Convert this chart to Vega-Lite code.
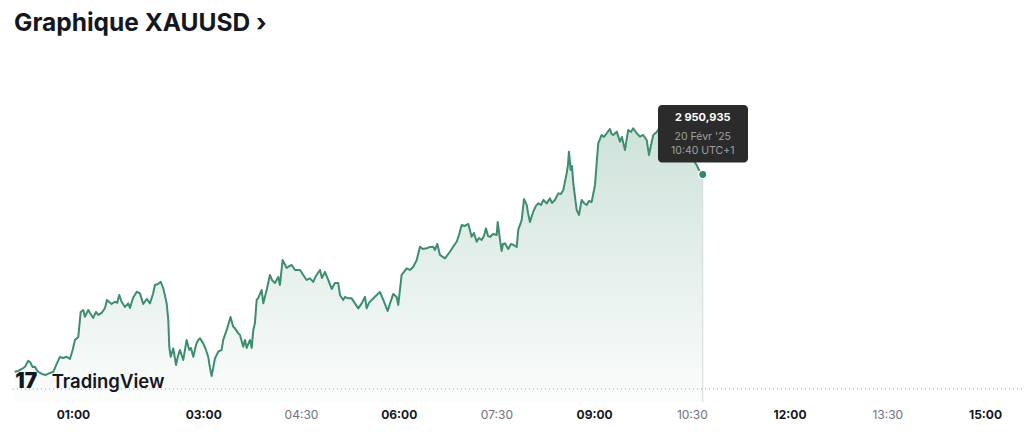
{
  "$schema": "https://vega.github.io/schema/vega-lite/v6.json",
  "width": 1024,
  "height": 342,
  "autosize": "none",
  "padding": {"left": 0, "right": 0, "top": 60, "bottom": 41},
  "background": "white",
  "config": {"view": {"stroke": null}, "font": "Inter"},
  "title": {
    "text": "Graphique XAUUSD ›",
    "anchor": "start",
    "frame": "group",
    "dx": 14,
    "dy": 22,
    "offset": 27,
    "baseline": "alphabetic",
    "font": "Inter",
    "fontSize": 24.5,
    "fontWeight": 700,
    "color": "#131722"
  },
  "datasets": {
    "xau": [
      {"t": 6.3, "p": 2931.21}, {"t": 9.6, "p": 2931.29}, {"t": 13.0, "p": 2931.49}, {"t": 15.8, "p": 2931.71},
      {"t": 18.8, "p": 2932.31}, {"t": 20.4, "p": 2932.19}, {"t": 22.9, "p": 2931.69}, {"t": 25.0, "p": 2931.71},
      {"t": 26.6, "p": 2931.39}, {"t": 28.0, "p": 2931.21}, {"t": 31.4, "p": 2930.99}, {"t": 35.1, "p": 2930.89},
      {"t": 38.8, "p": 2931.09}, {"t": 41.9, "p": 2931.21}, {"t": 45.0, "p": 2931.99}, {"t": 48.0, "p": 2932.69},
      {"t": 51.1, "p": 2932.59}, {"t": 54.2, "p": 2932.71}, {"t": 57.2, "p": 2932.49}, {"t": 59.7, "p": 2933.39},
      {"t": 61.8, "p": 2934.39}, {"t": 64.9, "p": 2934.69}, {"t": 67.1, "p": 2937.19}, {"t": 69.5, "p": 2937.39},
      {"t": 71.0, "p": 2936.71}, {"t": 74.1, "p": 2937.39}, {"t": 75.7, "p": 2937.09}, {"t": 78.7, "p": 2936.59},
      {"t": 81.2, "p": 2937.19}, {"t": 83.3, "p": 2936.89}, {"t": 86.4, "p": 2937.09}, {"t": 89.5, "p": 2937.59},
      {"t": 91.3, "p": 2938.39}, {"t": 93.2, "p": 2938.19}, {"t": 95.6, "p": 2937.99}, {"t": 98.7, "p": 2938.21},
      {"t": 100.8, "p": 2938.11}, {"t": 102.6, "p": 2938.89}, {"t": 104.8, "p": 2938.21}, {"t": 107.9, "p": 2937.69},
      {"t": 110.9, "p": 2938.05}, {"t": 112.5, "p": 2937.59}, {"t": 115.3, "p": 2938.59}, {"t": 118.7, "p": 2939.21},
      {"t": 121.7, "p": 2939.05}, {"t": 124.7, "p": 2937.99}, {"t": 127.9, "p": 2938.49}, {"t": 130.9, "p": 2938.05},
      {"t": 133.7, "p": 2938.99}, {"t": 135.5, "p": 2939.89}, {"t": 138.3, "p": 2939.99}, {"t": 140.8, "p": 2940.21},
      {"t": 143.2, "p": 2939.55}, {"t": 146.3, "p": 2938.05}, {"t": 147.8, "p": 2936.39}, {"t": 148.7, "p": 2933.71},
      {"t": 150.0, "p": 2932.71}, {"t": 152.4, "p": 2933.55}, {"t": 154.9, "p": 2931.89}, {"t": 156.7, "p": 2932.79},
      {"t": 158.5, "p": 2933.39}, {"t": 161.6, "p": 2932.39}, {"t": 164.7, "p": 2934.39}, {"t": 167.1, "p": 2933.39},
      {"t": 168.7, "p": 2933.59}, {"t": 170.8, "p": 2932.71}, {"t": 173.3, "p": 2933.89}, {"t": 175.4, "p": 2934.39},
      {"t": 177.0, "p": 2934.55}, {"t": 180.0, "p": 2934.05}, {"t": 182.5, "p": 2933.39}, {"t": 184.6, "p": 2932.69},
      {"t": 186.2, "p": 2931.59}, {"t": 187.7, "p": 2930.79}, {"t": 190.8, "p": 2932.55}, {"t": 193.8, "p": 2933.21},
      {"t": 196.9, "p": 2933.39}, {"t": 198.4, "p": 2934.39}, {"t": 201.6, "p": 2935.39}, {"t": 205.1, "p": 2936.69},
      {"t": 207.6, "p": 2935.71}, {"t": 209.2, "p": 2935.55}, {"t": 212.2, "p": 2935.05}, {"t": 213.8, "p": 2934.89},
      {"t": 216.8, "p": 2933.71}, {"t": 218.4, "p": 2934.39}, {"t": 220.0, "p": 2933.59}, {"t": 223.0, "p": 2934.39},
      {"t": 224.6, "p": 2933.59}, {"t": 226.1, "p": 2935.39}, {"t": 227.6, "p": 2936.09}, {"t": 229.2, "p": 2938.39},
      {"t": 230.7, "p": 2938.59}, {"t": 233.8, "p": 2939.39}, {"t": 235.3, "p": 2938.05}, {"t": 238.4, "p": 2939.39},
      {"t": 241.4, "p": 2940.89}, {"t": 243.3, "p": 2940.39}, {"t": 246.0, "p": 2940.09}, {"t": 249.1, "p": 2940.69},
      {"t": 250.6, "p": 2939.89}, {"t": 253.1, "p": 2942.39}, {"t": 256.8, "p": 2941.59}, {"t": 258.3, "p": 2941.71},
      {"t": 261.4, "p": 2941.89}, {"t": 264.5, "p": 2941.39}, {"t": 269.1, "p": 2941.39}, {"t": 272.1, "p": 2940.89},
      {"t": 275.2, "p": 2940.39}, {"t": 278.3, "p": 2940.55}, {"t": 281.3, "p": 2940.19}, {"t": 283.8, "p": 2940.79},
      {"t": 287.5, "p": 2941.39}, {"t": 289.3, "p": 2940.59}, {"t": 292.1, "p": 2941.19}, {"t": 295.1, "p": 2940.39},
      {"t": 298.3, "p": 2939.49}, {"t": 301.3, "p": 2940.09}, {"t": 304.3, "p": 2940.09}, {"t": 305.9, "p": 2938.89},
      {"t": 308.9, "p": 2938.39}, {"t": 310.5, "p": 2938.69}, {"t": 313.5, "p": 2938.55}, {"t": 316.7, "p": 2938.55},
      {"t": 319.7, "p": 2938.05}, {"t": 322.8, "p": 2937.55}, {"t": 325.9, "p": 2938.05}, {"t": 328.9, "p": 2938.69},
      {"t": 330.5, "p": 2937.55}, {"t": 332.6, "p": 2938.09}, {"t": 335.1, "p": 2938.39}, {"t": 338.1, "p": 2938.71},
      {"t": 342.7, "p": 2939.19}, {"t": 345.8, "p": 2938.39}, {"t": 349.8, "p": 2937.29}, {"t": 352.0, "p": 2938.05},
      {"t": 355.0, "p": 2938.99}, {"t": 358.1, "p": 2938.69}, {"t": 359.6, "p": 2937.89}, {"t": 362.7, "p": 2940.89},
      {"t": 364.9, "p": 2941.19}, {"t": 367.3, "p": 2941.55}, {"t": 370.4, "p": 2941.39}, {"t": 373.4, "p": 2941.71},
      {"t": 376.6, "p": 2942.39}, {"t": 379.6, "p": 2943.71}, {"t": 382.3, "p": 2943.49}, {"t": 385.8, "p": 2943.55},
      {"t": 388.8, "p": 2943.69}, {"t": 391.8, "p": 2943.71}, {"t": 393.4, "p": 2943.39}, {"t": 395.5, "p": 2943.99},
      {"t": 398.0, "p": 2942.89}, {"t": 402.6, "p": 2942.55}, {"t": 407.2, "p": 2943.21}, {"t": 410.0, "p": 2943.69},
      {"t": 413.4, "p": 2944.21}, {"t": 415.5, "p": 2944.89}, {"t": 418.0, "p": 2945.89}, {"t": 421.0, "p": 2945.79},
      {"t": 424.1, "p": 2945.99}, {"t": 427.2, "p": 2944.71}, {"t": 429.3, "p": 2945.09}, {"t": 431.8, "p": 2944.21},
      {"t": 433.9, "p": 2944.59}, {"t": 436.4, "p": 2944.39}, {"t": 438.5, "p": 2944.79}, {"t": 440.4, "p": 2945.55},
      {"t": 442.2, "p": 2944.79}, {"t": 444.1, "p": 2944.69}, {"t": 446.8, "p": 2944.99}, {"t": 450.2, "p": 2944.89},
      {"t": 451.2, "p": 2946.19}, {"t": 453.3, "p": 2944.39}, {"t": 454.8, "p": 2943.29}, {"t": 456.0, "p": 2943.99},
      {"t": 457.9, "p": 2944.05}, {"t": 460.9, "p": 2943.49}, {"t": 463.4, "p": 2943.99}, {"t": 465.5, "p": 2943.89},
      {"t": 468.7, "p": 2943.69}, {"t": 470.1, "p": 2945.39}, {"t": 473.3, "p": 2946.39}, {"t": 475.4, "p": 2948.49},
      {"t": 477.9, "p": 2947.89}, {"t": 479.1, "p": 2947.09}, {"t": 480.9, "p": 2946.19}, {"t": 483.9, "p": 2947.21},
      {"t": 486.4, "p": 2947.79}, {"t": 488.5, "p": 2948.05}, {"t": 491.0, "p": 2947.89}, {"t": 493.2, "p": 2948.39},
      {"t": 496.3, "p": 2948.05}, {"t": 499.3, "p": 2948.55}, {"t": 501.2, "p": 2948.09}, {"t": 503.9, "p": 2948.39},
      {"t": 507.0, "p": 2949.05}, {"t": 509.4, "p": 2948.99}, {"t": 511.6, "p": 2949.39}, {"t": 514.7, "p": 2951.06},
      {"t": 515.9, "p": 2951.89}, {"t": 516.8, "p": 2953.22}, {"t": 518.4, "p": 2951.39}, {"t": 519.6, "p": 2951.79},
      {"t": 520.8, "p": 2950.06}, {"t": 523.9, "p": 2947.39}, {"t": 526.0, "p": 2946.89}, {"t": 528.5, "p": 2948.39},
      {"t": 530.6, "p": 2948.09}, {"t": 533.1, "p": 2947.89}, {"t": 535.2, "p": 2948.29}, {"t": 537.7, "p": 2948.19},
      {"t": 540.8, "p": 2949.89}, {"t": 542.2, "p": 2951.89}, {"t": 543.8, "p": 2954.06}, {"t": 546.9, "p": 2954.89},
      {"t": 549.1, "p": 2954.69}, {"t": 551.6, "p": 2955.06}, {"t": 554.6, "p": 2955.49}, {"t": 556.0, "p": 2954.99},
      {"t": 557.6, "p": 2954.89}, {"t": 560.8, "p": 2955.22}, {"t": 563.8, "p": 2954.22}, {"t": 565.6, "p": 2954.69},
      {"t": 568.4, "p": 2953.39}, {"t": 571.4, "p": 2955.39}, {"t": 573.9, "p": 2955.19}, {"t": 576.0, "p": 2955.56},
      {"t": 579.2, "p": 2955.06}, {"t": 582.2, "p": 2954.72}, {"t": 585.2, "p": 2954.89}, {"t": 588.4, "p": 2954.39},
      {"t": 590.5, "p": 2952.89}, {"t": 593.0, "p": 2954.19}, {"t": 594.5, "p": 2954.89}, {"t": 597.6, "p": 2955.19},
      {"t": 600.6, "p": 2955.69}, {"t": 605.2, "p": 2955.79}, {"t": 609.8, "p": 2955.99}, {"t": 614.5, "p": 2955.59},
      {"t": 619.1, "p": 2955.19}, {"t": 623.7, "p": 2954.39}, {"t": 628.3, "p": 2953.19}, {"t": 631.3, "p": 2952.39},
      {"t": 634.4, "p": 2951.89}, {"t": 636.6, "p": 2951.39}, {"t": 640, "p": 2950.935}
    ]
  },
  "layer": [
    {
      "data": {"name": "xau"},
      "mark": {
        "type": "area",
        "color": {
          "gradient": "linear",
          "x1": 0, "y1": 0, "x2": 0, "y2": 1,
          "stops": [
            {"offset": 0, "color": "rgba(62,142,110,0.26)"},
            {"offset": 1, "color": "rgba(62,142,110,0.02)"}
          ]
        }
      },
      "encoding": {
        "x": {
          "field": "t",
          "type": "quantitative",
          "scale": {"domain": [-7.2, 935.9], "nice": false, "zero": false},
          "axis": {
            "values": [60, 180, 270, 360, 450, 540, 630, 720, 810, 900],
            "labelExpr": "format(floor(datum.value / 60), '02d') + ':' + format(datum.value % 60, '02d')",
            "domain": false,
            "ticks": false,
            "grid": false,
            "title": null,
            "labelFont": "Inter",
            "labelFontSize": 12,
            "labelPadding": 7,
            "labelOverlap": false,
            "labelFontWeight": {"condition": {"test": "datum.value % 60 == 0", "value": "bold"}, "value": "normal"},
            "labelColor": {"condition": {"test": "datum.value % 60 == 0", "value": "#131722"}, "value": "#6f727c"}
          }
        },
        "y": {
          "field": "p",
          "type": "quantitative",
          "scale": {"domain": [2928.185, 2962.385], "nice": false, "zero": false},
          "axis": null
        },
        "y2": {"datum": 2928.185}
      }
    },
    {
      "data": {"values": [{"a": 1}]},
      "mark": {"type": "rule", "color": "#9a9ea8", "strokeWidth": 1, "strokeDash": [1, 3]},
      "encoding": {
        "x": {"datum": 4.7, "type": "quantitative"},
        "x2": {"datum": 935.9},
        "y": {"datum": 2929.485, "type": "quantitative"}
      }
    },
    {
      "data": {"values": [{"a": 1}]},
      "mark": {"type": "rule", "color": "#d6d8dc", "strokeWidth": 1},
      "encoding": {
        "x": {"datum": 640, "type": "quantitative"},
        "y": {"datum": 2950.935, "type": "quantitative"},
        "y2": {"datum": 2928.185}
      }
    },
    {
      "data": {"name": "xau"},
      "mark": {"type": "line", "color": "#3e8e6e", "strokeWidth": 2, "strokeJoin": "round"},
      "encoding": {
        "x": {"field": "t", "type": "quantitative"},
        "y": {"field": "p", "type": "quantitative"}
      }
    },
    {
      "data": {"values": [{"label": "17"}]},
      "mark": {"type": "text", "align": "left", "baseline": "alphabetic", "font": "Inter", "fontWeight": 900, "fontSize": 21, "color": "#131722"},
      "encoding": {
        "x": {"datum": 6.8, "type": "quantitative"},
        "y": {"datum": 2929.555, "type": "quantitative"},
        "text": {"field": "label"}
      }
    },
    {
      "data": {"values": [{"label": "TradingView"}]},
      "mark": {"type": "text", "align": "left", "baseline": "alphabetic", "font": "Inter", "fontWeight": 600, "fontSize": 18.5, "color": "#131722"},
      "encoding": {
        "x": {"datum": 40.4, "type": "quantitative"},
        "y": {"datum": 2929.555, "type": "quantitative"},
        "text": {"field": "label"}
      }
    },
    {
      "data": {"name": "xau"},
      "transform": [{"filter": "datum.t == 640"}],
      "mark": {"type": "point", "filled": true, "size": 70, "color": "#2f8a66", "stroke": "white", "strokeWidth": 1.5, "opacity": 1},
      "encoding": {
        "x": {"field": "t", "type": "quantitative"},
        "y": {"field": "p", "type": "quantitative"}
      }
    },
    {
      "data": {"values": [{"a": 1}]},
      "mark": {"type": "rect", "color": "#2b2b2b", "cornerRadius": 4},
      "encoding": {
        "x": {"datum": 598.8, "type": "quantitative"},
        "x2": {"datum": 681.7},
        "y": {"datum": 2957.885, "type": "quantitative"},
        "y2": {"datum": 2952.135}
      }
    },
    {
      "data": {"values": [{"label": "2 950,935"}]},
      "mark": {"type": "text", "align": "center", "baseline": "middle", "font": "Inter", "fontWeight": "bold", "fontSize": 11, "color": "#ffffff", "dy": -56.5},
      "encoding": {
        "x": {"datum": 640, "type": "quantitative"},
        "y": {"datum": 2950.935, "type": "quantitative"},
        "text": {"field": "label"}
      }
    },
    {
      "data": {"values": [{"label": "20 Févr '25"}]},
      "mark": {"type": "text", "align": "center", "baseline": "middle", "font": "Inter", "fontSize": 10.5, "color": "#a0a0a0", "dy": -37.5},
      "encoding": {
        "x": {"datum": 640, "type": "quantitative"},
        "y": {"datum": 2950.935, "type": "quantitative"},
        "text": {"field": "label"}
      }
    },
    {
      "data": {"values": [{"label": "10:40 UTC+1"}]},
      "mark": {"type": "text", "align": "center", "baseline": "middle", "font": "Inter", "fontSize": 10.5, "color": "#a0a0a0", "dy": -23.5},
      "encoding": {
        "x": {"datum": 640, "type": "quantitative"},
        "y": {"datum": 2950.935, "type": "quantitative"},
        "text": {"field": "label"}
      }
    }
  ]
}
